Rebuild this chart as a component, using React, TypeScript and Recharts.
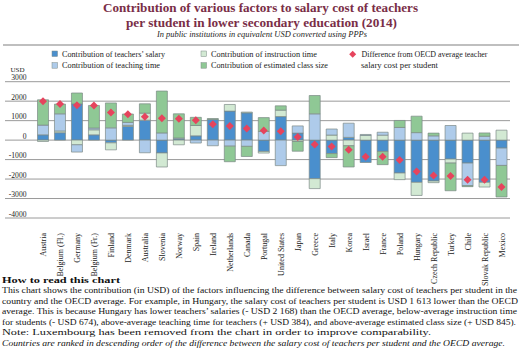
import React from "react";
import {
  ComposedChart,
  Bar,
  Line,
  XAxis,
  YAxis,
  CartesianGrid,
} from "recharts";

const countries = [
  "Austria", "Belgium (Fl.)", "Germany", "Belgium (Fr.)", "Finland", "Denmark",
  "Australia", "Slovenia", "Norway", "Spain", "Ireland", "Netherlands", "Canada",
  "Portugal", "United States", "Japan", "Greece", "Italy", "Korea", "Israel",
  "France", "Poland", "Hungary", "Czech Republic", "Turkey", "Chile",
  "Slovak Republic", "Mexico",
];

const salary = [
  270, 380, 1860, 270, -140, 700, 1025, -660, 60, 220, 1060, 1490, 1400, -580,
  1210, 360, -1980, -690, 140, -1150, -580, -1690, -2168, -2100, -975, -1180,
  -2170, -410,
];
const instruction = [
  -70, 90, -240, 260, -360, 60, 360, -720, -240, 530, 0, 340, 40, -85, 330, -70,
  -510, 260, -290, 240, 255, -340, -674, -85, -205, 360, -240, 510,
];
const teaching = [
  500, 880, -375, 90, 630, 150, -650, 370, 50, -150, -290, -310, -320, 445,
  -1310, 370, 1350, 310, 730, 50, 150, 650, 384, 220, 750, -1160, 200, -890,
];
const classSize = [
  1300, 500, 560, 1160, 1280, 430, 480, 2150, 1240, 420, 50, -800, -520, 710,
  220, -500, 940, -210, -1090, 0, -680, 360, 845, 140, -1420, -50, 170, -1620,
];
const difference = [
  2000, 1850, 1790, 1775, 1420, 1330, 1200, 1120, 1100, 1020, 820, 720, 600,
  490, 450, 160, -220, -330, -500, -850, -860, -1025, -1613, -1820, -1840,
  -2030, -2040, -2410,
];

const yTicks = [-4000, -3000, -2000, -1000, 0, 1000, 2000, 3000];

const data = countries.map((c, i) => ({
  country: c,
  salary: salary[i] || null,
  instruction: instruction[i] || null,
  teaching: teaching[i] || null,
  classSize: classSize[i] || null,
  difference: difference[i],
}));

const FONT = "'Liberation Serif', 'Times New Roman', serif";
const C_SALARY = "#4a8fcd";
const C_TEACH = "#aecbea";
const C_INSTR = "#d2e9d3";
const C_CLASS = "#8fc895";
const C_DIAMOND = "#e6445d";
const EDGE = "#7c8a86";

const Diamond = (props: any) => {
  const { cx, cy } = props;
  if (cx == null || cy == null) return null;
  const s = 4;
  return (
    <path
      key={`d-${props.index}`}
      d={`M${cx},${cy - s}L${cx + s},${cy}L${cx},${cy + s}L${cx - s},${cy}Z`}
      fill={C_DIAMOND}
    />
  );
};

const CountryTick = (props: any) => {
  const { x, y, payload } = props;
  return (
    <text
      transform={`translate(${x + 3},${y + 7}) rotate(-90)`}
      textAnchor="end"
      fontSize={8}
      fontFamily={FONT}
      fill="#222"
    >
      {payload.value}
    </text>
  );
};

const UsdTick = (props: any) => {
  const { y, payload } = props;
  return (
    <text x={26.5} y={y - 1.5} textAnchor="end" fontSize={7.6} fontFamily={FONT} fill="#222">
      {payload.value}
    </text>
  );
};

const notes = [
  { y: 293, w: 515, t: "This chart shows the contribution (in USD) of the factors influencing the difference between salary cost of teachers per student in the" },
  { y: 303.6, w: 516, t: "country and the OECD average. For example, in Hungary, the salary cost of teachers per student is USD 1 613 lower than the OECD" },
  { y: 314.2, w: 515, t: "average. This is because Hungary has lower teachers\u2019 salaries (- USD 2 168) than the OECD average, below-average instruction time" },
  { y: 324.8, w: 514, t: "for students (- USD 674), above-average teaching time for teachers (+ USD 384), and above-average estimated class size (+ USD 845)." },
  { y: 335.4, w: 429, t: "Note: Luxembourg has been removed from the chart in order to improve comparability." },
];

export default function App() {
  return (
    <div
      style={{
        position: "fixed",
        left: 0,
        top: 0,
        width: 522,
        height: 355,
        background: "#fff",
        overflow: "hidden",
      }}
    >
      <div style={{ position: "absolute", left: 0, top: 0 }}>
        <ComposedChart
          width={522}
          height={290}
          data={data}
          stackOffset="sign"
          margin={{ top: 81.7, right: 12, left: 4, bottom: 0 }}
        >
          <CartesianGrid vertical={false} stroke="#9a9a9a" strokeWidth={1} />
          <XAxis
            dataKey="country"
            interval={0}
            tickLine={false}
            axisLine={false}
            height={72}
            padding={{ left: 29.5, right: 0 }}
            tick={<CountryTick />}
          />
          <YAxis
            type="number"
            width={1}
            domain={[-4000, 3000]}
            ticks={yTicks}
            interval={0}
            allowDataOverflow
            tickLine={false}
            axisLine={false}
            tick={<UsdTick />}
          />
          <Bar dataKey="salary" stackId="a" barSize={11} fill={C_SALARY} stroke={EDGE} strokeWidth={0.7} isAnimationActive={false} />
          <Bar dataKey="instruction" stackId="a" barSize={11} fill={C_INSTR} stroke={EDGE} strokeWidth={0.7} isAnimationActive={false} />
          <Bar dataKey="teaching" stackId="a" barSize={11} fill={C_TEACH} stroke={EDGE} strokeWidth={0.7} isAnimationActive={false} />
          <Bar dataKey="classSize" stackId="a" barSize={11} fill={C_CLASS} stroke={EDGE} strokeWidth={0.7} isAnimationActive={false} />
          <Line
            dataKey="difference"
            stroke="none"
            dot={Diamond}
            activeDot={false}
            isAnimationActive={false}
          />
        </ComposedChart>
      </div>

      <svg
        width={522}
        height={355}
        style={{ position: "absolute", left: 0, top: 0, pointerEvents: "none" }}
        fontFamily={FONT}
      >
        <text x={103} y={12.3} fontSize={12.5} fontWeight="bold" fill="#7a2e47" textLength={315} lengthAdjust="spacingAndGlyphs">
          Contribution of various factors to salary cost of teachers
        </text>
        <text x={126} y={26.5} fontSize={12.5} fontWeight="bold" fill="#7a2e47" textLength={271} lengthAdjust="spacingAndGlyphs">
          per student in lower secondary education (2014)
        </text>
        <text x={157} y={36.6} fontSize={8} fontStyle="italic" fill="#222" textLength={210} lengthAdjust="spacingAndGlyphs">
          In public institutions in equivalent USD converted using PPPs
        </text>
        <line x1={3} x2={519} y1={45} y2={45} stroke="#aaaaaa" strokeWidth={1.6} />

        <rect x={52} y={51} width={5.5} height={5.5} fill={C_SALARY} stroke={EDGE} strokeWidth={0.5} />
        <text x={62} y={57} fontSize={7.6} fill="#222" textLength={103} lengthAdjust="spacingAndGlyphs">
          Contribution of teachers’ salary
        </text>
        <rect x={201} y={51} width={5.5} height={5.5} fill={C_INSTR} stroke={EDGE} strokeWidth={0.5} />
        <text x={211} y={57} fontSize={7.6} fill="#222" textLength={106} lengthAdjust="spacingAndGlyphs">
          Contribution of instruction time
        </text>
        <path d="M352.7,50.7L356.2,54.2L352.7,57.7L349.2,54.2Z" fill={C_DIAMOND} />
        <text x={361.5} y={57} fontSize={7.6} fill="#222" textLength={126} lengthAdjust="spacingAndGlyphs">
          Difference from OECD average teacher
        </text>
        <text x={361} y={68.3} fontSize={7.6} fill="#222" textLength={77} lengthAdjust="spacingAndGlyphs">
          salary cost per student
        </text>
        <rect x={52} y={62.7} width={5.5} height={5.5} fill={C_TEACH} stroke={EDGE} strokeWidth={0.5} />
        <text x={62} y={68.3} fontSize={7.6} fill="#222" textLength={98} lengthAdjust="spacingAndGlyphs">
          Contribution of teaching time
        </text>
        <rect x={201} y={62.7} width={5.5} height={5.5} fill={C_CLASS} stroke={EDGE} strokeWidth={0.5} />
        <text x={211} y={68.3} fontSize={7.6} fill="#222" textLength={117} lengthAdjust="spacingAndGlyphs">
          Contribution of estimated class size
        </text>

        <text x={10.5} y={72} fontSize={7} fill="#222">USD</text>

        <text x={2} y={282.5} fontSize={9} fontWeight="bold" fill="#111" textLength={118} lengthAdjust="spacingAndGlyphs">
          How to read this chart
        </text>
        {notes.map((n) => (
          <text key={n.y} x={2} y={n.y} fontSize={9} fill="#111" textLength={n.w} lengthAdjust="spacingAndGlyphs">
            {n.t}
          </text>
        ))}
        <text x={2} y={346} fontSize={9} fontStyle="italic" fill="#111" textLength={503} lengthAdjust="spacingAndGlyphs">
          Countries are ranked in descending order of the difference between the salary cost of teachers per student and the OECD average.
        </text>
      </svg>
    </div>
  );
}
